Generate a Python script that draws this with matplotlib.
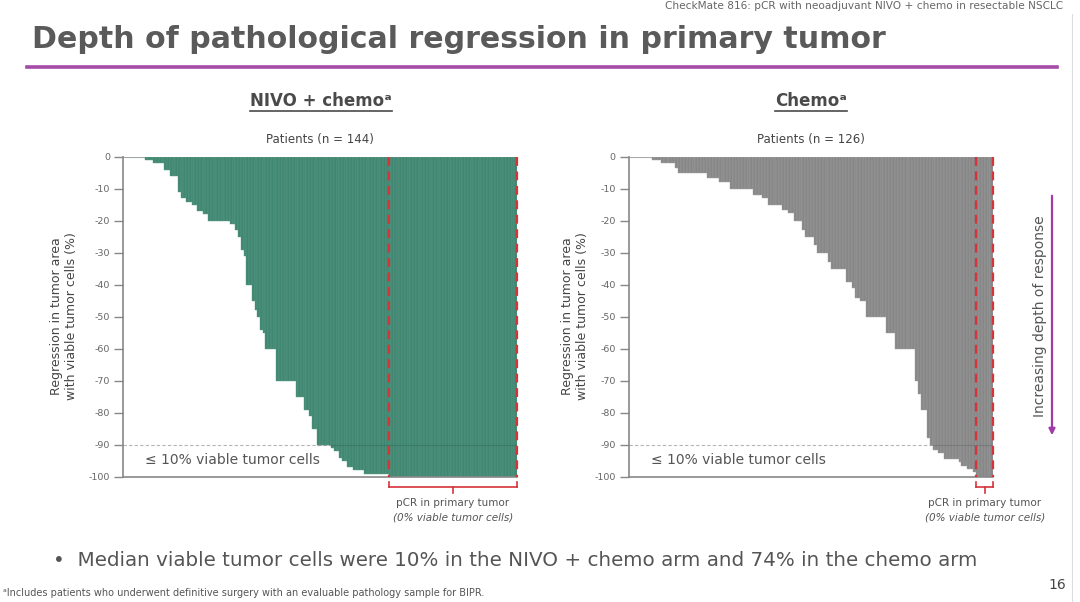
import matplotlib
matplotlib.use('Agg')
import matplotlib.pyplot as plt
import numpy as np
from matplotlib.lines import Line2D

# Regression in tumor area with viable tumor cells (%), one value per patient
nivo_chemo = [
    0, 0, 0, 0, 0, 0, 0, 0, -1, -1, -1, -2,
    -2, -2, -2, -4, -4, -6, -6, -6, -11, -13, -13, -14,
    -14, -15, -15, -17, -17, -18, -18, -20, -20, -20, -20, -20,
    -20, -20, -20, -21, -21, -23, -25, -29, -31, -40, -40, -45,
    -48, -50, -54, -55, -60, -60, -60, -60, -70, -70, -70, -70,
    -70, -70, -70, -75, -75, -75, -79, -79, -81, -85, -85, -90,
    -90, -90, -90, -90, -91, -92, -92, -94, -95, -95, -97, -97,
    -98, -98, -98, -98, -99, -99, -99, -99, -99, -99, -99, -99,
    -99, -100, -100, -100, -100, -100, -100, -100, -100, -100, -100, -100,
    -100, -100, -100, -100, -100, -100, -100, -100, -100, -100, -100, -100,
    -100, -100, -100, -100, -100, -100, -100, -100, -100, -100, -100, -100,
    -100, -100, -100, -100, -100, -100, -100, -100, -100, -100, -100, -100,
]
chemo = [
    0, 0, 0, 0, 0, 0, 0, 0, -1, -1, -1, -2,
    -2, -2, -2, -2, -3.5, -5, -5, -5, -5, -5, -5, -5,
    -5, -5, -5, -6.5, -6.5, -6.5, -6.5, -8, -8, -8, -8, -10,
    -10, -10, -10, -10, -10, -10, -10, -12, -12, -12, -13, -13,
    -15, -15, -15, -15, -15, -16.5, -16.5, -17.7, -17.7, -20, -20, -20,
    -23, -25, -25, -25, -27.5, -30, -30, -30, -30, -33, -35, -35,
    -35, -35, -35, -39, -39, -41, -44, -44, -45, -45, -50, -50,
    -50, -50, -50, -50, -50, -55, -55, -55, -60, -60, -60, -60,
    -60, -60, -60, -70, -74, -79, -79, -88, -90, -91.5, -91.5, -92.7,
    -92.7, -94.5, -94.5, -94.5, -94.5, -94.5, -95.5, -96.5, -96.5, -97.7, -97.7, -98.5,
    -100, -100, -100, -100, -100, -100,
]
panel_titles = ['NIVO + chemo\u1d43', 'Chemo\u1d43']
patient_labels = ['Patients (n = 144)', 'Patients (n = 126)']
y_ticks = [0, -10, -20, -30, -40, -50, -60, -70, -80, -90, -100]

W, H = 1080, 602
def fx(x):
    return x / W
def fy(y):
    return 1 - y / H

grey_txt = '#555555'
fig = plt.figure(figsize=(10.8, 6.02), dpi=100)

# slide header
fig.text(fx(665), fy(6), 'CheckMate 816: pCR with neoadjuvant NIVO + chemo in resectable NSCLC',
         fontsize=7.6, color='#666666', ha='left', va='center')
fig.text(fx(32), fy(40), 'Depth of pathological regression in primary tumor',
         fontsize=21.6, fontweight='bold', color='#5a5a5a', ha='left', va='center')
fig.add_artist(Line2D([fx(27), fx(1057)], [fy(67), fy(67)], color='#a64ca8', lw=2.6))
fig.add_artist(Line2D([fx(1072), fx(1072)], [fy(14), fy(602)], color='#dddddd', lw=0.8))

panels = [
    dict(vals=nivo_chemo, left=123.3, right=517.0, color='#3f8770', edge='#5f9e8a',
         title_x=321, ylab_x=64, pcr=47),
    dict(vals=chemo, left=629.0, right=993.3, color='#878787', edge='#a3a3a3',
         title_x=811, ylab_x=575, pcr=6),
]

top_px, bot_px = 156.7, 476.7
heading_texts = []
for p, title, plab in zip(panels, panel_titles, patient_labels):
    vals = np.array(p['vals'])
    n = len(vals)
    ax = fig.add_axes([fx(p['left']), fy(bot_px), (p['right'] - p['left']) / W, (bot_px - top_px) / H])
    ax.bar(np.arange(n), vals, width=1.0, align='edge', color=p['color'],
           edgecolor=p['edge'], linewidth=0.3, zorder=2)
    ax.set_xlim(0, n)
    ax.set_ylim(-100, 0)
    ax.set_yticks(y_ticks)
    ax.set_yticklabels([str(t) for t in y_ticks])
    ax.set_xticks([])
    ax.tick_params(axis='y', length=6.5, width=1, color='#888888', labelsize=6.8,
                   labelcolor='#666666', pad=3)
    for s in ['top', 'right']:
        ax.spines[s].set_visible(False)
    for s in ['left', 'bottom']:
        ax.spines[s].set_color('#888888')
        ax.spines[s].set_linewidth(1.2)
    ax.axhline(0, color='#aaaaaa', lw=0.8, zorder=1)

    # 10% viable threshold
    ax.axhline(-90, color='#b5b5b5', lw=0.8, ls=(0, (3, 2)), zorder=1)
    first90 = int(np.argmax(vals <= -90))
    ax.plot([first90, n], [-90, -90], color='black', alpha=0.12, lw=0.8, zorder=3)
    fig.text(fx(p['left'] + 22), fy(460), '\u2264 10% viable tumor cells',
             fontsize=10, color=grey_txt, ha='left', va='center')

    # pCR bracket
    x0 = n - p['pcr']
    red = '#d6333a'
    for xv in [x0, n]:
        ax.plot([xv, xv], [0, -100], color=red, lw=1.6, ls=(0, (4, 2.5)), zorder=4, clip_on=False)
        ax.plot([xv, xv], [-101.6, -103.1], color=red, lw=1.2, clip_on=False)
    ax.plot([x0, n], [-103.1, -103.1], color=red, lw=1.2, clip_on=False)
    xc = (x0 + n) / 2
    ax.plot([xc, xc], [-103.1, -105.2], color=red, lw=1.2, clip_on=False)
    xc_px = p['left'] + (p['right'] - p['left']) * xc / n
    fig.text(fx(xc_px), fy(503), 'pCR in primary tumor', fontsize=7.5, color=grey_txt,
             ha='center', va='center')
    fig.text(fx(xc_px), fy(518), '(0% viable tumor cells)', fontsize=7.5, color=grey_txt,
             ha='center', va='center', style='italic')

    fig.text(fx((p['left'] + p['right']) / 2), fy(140), plab, fontsize=8.5, color='#444444',
             ha='center', va='center')
    fig.text(fx(p['ylab_x']), fy(316), 'Regression in tumor area\nwith viable tumor cells (%)',
             fontsize=9, color='#444444', ha='center', va='center', rotation=90, linespacing=1.15)
    t = fig.text(fx(p['title_x']), fy(101), title, fontsize=12, fontweight='bold',
                 color='#4a4a4a', ha='center', va='center')
    heading_texts.append(t)

# depth of response arrow
fig.text(fx(1040), fy(316), 'Increasing depth of response', fontsize=10, color=grey_txt,
         rotation=90, ha='center', va='center')
fig.add_artist(matplotlib.patches.FancyArrowPatch((fx(1052), fy(193)), (fx(1052), fy(438)),
               transform=fig.transFigure, arrowstyle='-|>', mutation_scale=9,
               color='#a23aa8', lw=1.6))

fig.text(fx(53), fy(561), '\u2022  Median viable tumor cells were 10% in the NIVO + chemo arm and 74% in the chemo arm',
         fontsize=14.3, color='#555555', ha='left', va='center')
fig.text(fx(3), fy(593), '\u1d43Includes patients who underwent definitive surgery with an evaluable pathology sample for BIPR.',
         fontsize=7, color='#555555', ha='left', va='center')
fig.text(fx(1057), fy(585), '16', fontsize=10, color='#444444', ha='center', va='center')

# underline the panel headings
fig.canvas.draw()
inv = fig.transFigure.inverted()
for t in heading_texts:
    bb = t.get_window_extent()
    (xa, ya), (xb, _) = inv.transform([(bb.x0, bb.y0), (bb.x1, bb.y0)])
    fig.add_artist(Line2D([xa, xb], [ya - 0.002, ya - 0.002], color='#4a4a4a', lw=1.2))

fig.savefig('out.png', dpi=100)
